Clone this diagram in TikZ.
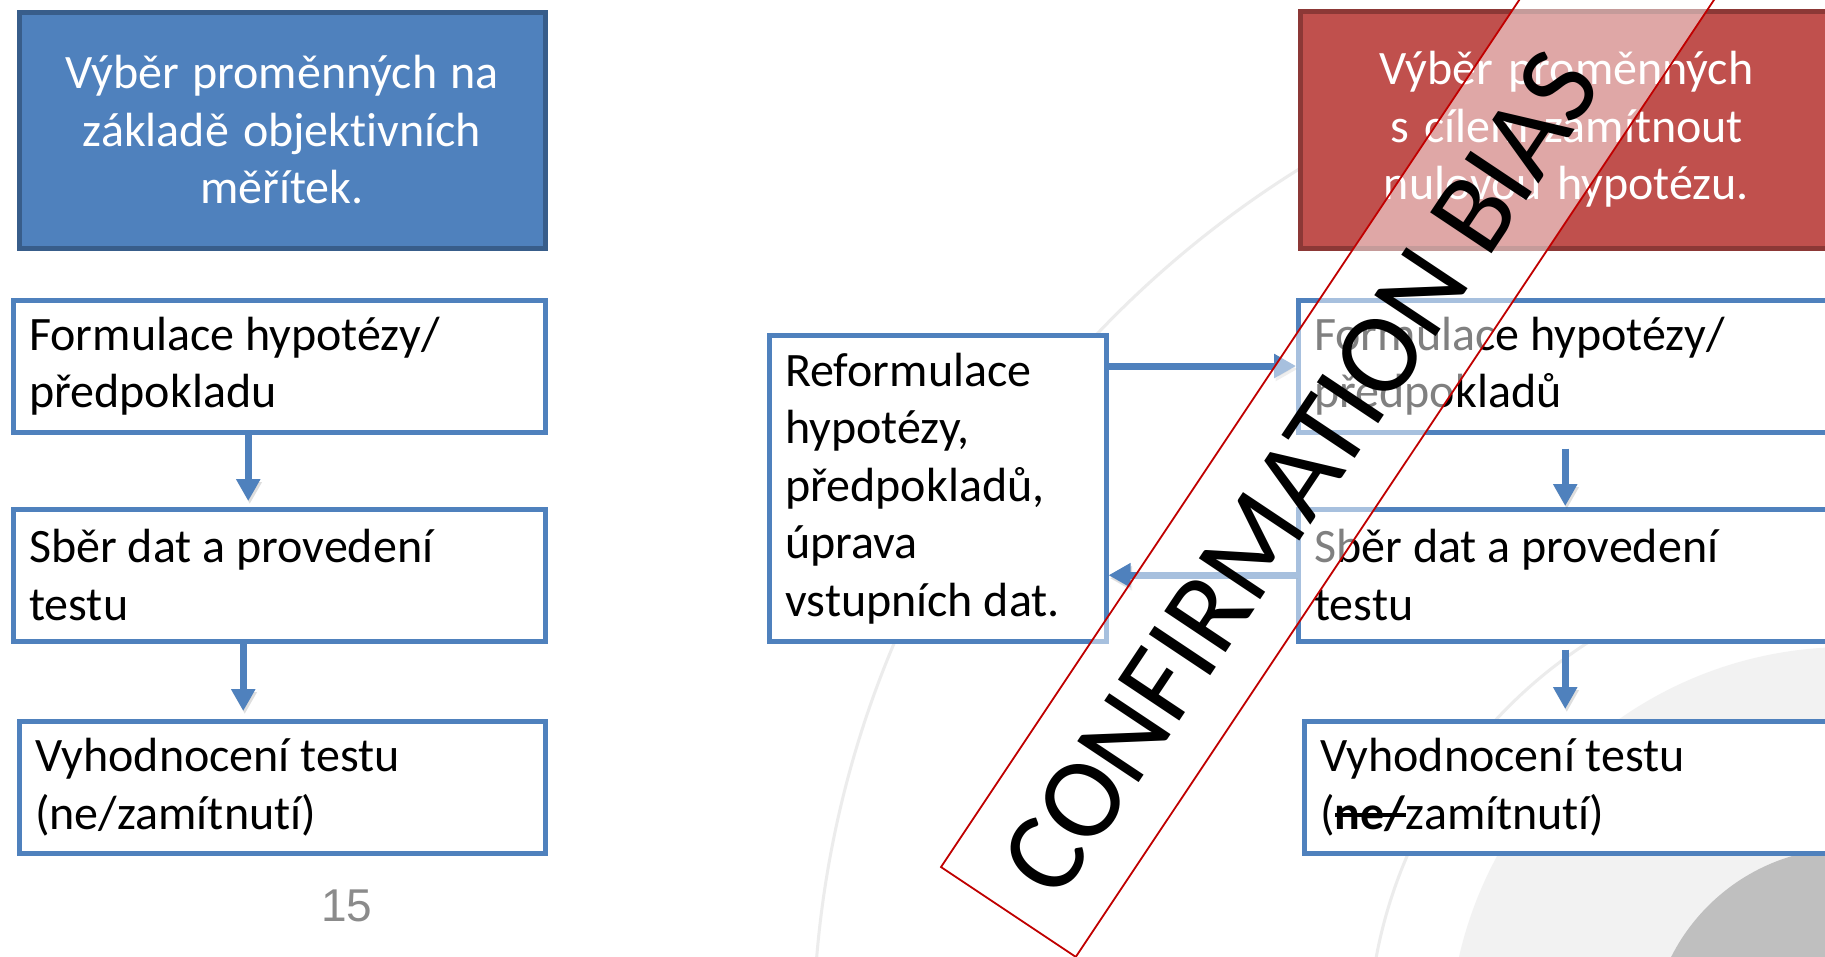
\documentclass[tikz,border=0pt]{standalone}
\usepackage{fontspec}
\setmainfont{Carlito}[Ligatures=NoCommon]
\newfontfamily\bodyfont{Carlito}[Ligatures=NoCommon]
\newfontfamily\stampfont{Carlito}
\newfontfamily\arialf{Liberation Sans}
\usetikzlibrary{arrows.meta,calc}
\definecolor{oblue}{HTML}{4F81BD}
\definecolor{oblueD}{HTML}{385D8A}
\definecolor{ored}{HTML}{C0504D}
\definecolor{oredD}{HTML}{8C3836}
\definecolor{stampred}{HTML}{C00000}
\definecolor{bgband}{HTML}{F2F2F2}
\definecolor{bgdark}{HTML}{BFBFBF}
\definecolor{bgarc}{HTML}{ECECEC}
\definecolor{pgnum}{HTML}{8B8B8B}
\newcommand\strk[1]{\leavevmode\setbox0\hbox{#1}\rlap{\rule[0.26em]{\wd0}{3.5pt}}\box0}
\newcommand\bodyfs{\bodyfont\fontsize{48}{57.5}\selectfont}
\newcommand\natspace{\spaceskip=0pt\xspaceskip=0pt\relax}
\begin{document}
\begin{tikzpicture}[x=1pt,y=-1pt,
  hdrbox/.style={line width=5pt, text=white, align=center, inner sep=0pt,
    anchor=north west, font=\bodyfs, execute at begin node=\natspace},
  stepbox/.style={draw=oblue, fill=white, line width=4.5pt, align=left,
    anchor=north west, inner xsep=16pt, inner ysep=0pt, font=\bodyfs,
    execute at begin node=\natspace},
  flow/.style={draw=oblue, line width=7pt, -{Triangle[width=23pt,length=22pt]},
    preaction={draw=black!70, opacity=0.18, transform canvas={xshift=1.5pt, yshift=-3pt}}},
  bgline/.style={draw=bgarc, line width=3pt},
]
\path[use as bounding box] (0,0) rectangle (1825,956);
\begin{scope}
\clip (0,0) rectangle (1825,956);
\fill[white] (0,0) rectangle (1825,956);
% background decoration
\fill[bgband] (1848,1046) circle[radius=399pt];
\fill[bgdark] (1848,1046) circle[radius=198pt];
\draw[bgline] (1848,1046) circle[radius=480pt];
\draw[bgline] (1845,1045) circle[radius=1032pt];

% left column
\node[hdrbox, draw=oblueD, fill=oblue, minimum width=526pt, minimum height=236pt, text width=510pt]
  (hdrL) at (16.5,9.5) {Výběr proměnných na\\ základě objekt\kern0pt ivních\\ měřítek.};
\node[stepbox, minimum width=532pt, minimum height=132pt, text width=500pt]
  (L1) at (11,298) {Formulace hypotézy/\\ předpokladu};
\node[stepbox, minimum width=532pt, minimum height=132pt, text width=500pt]
  (L2) at (11,507) {Sběr dat a provedení\\ testu};
\node[stepbox, minimum width=526pt, minimum height=132pt, text width=494pt]
  (L3) at (17,719) {Vyhodnocení testu\\ (ne/zamítnut\kern0pt í)};
\draw[flow, shorten >=6pt] ([xshift=-31pt]L1.south) -- ([xshift=-31pt]L2.north);
\draw[flow, shorten >=8pt] ([xshift=-36pt]L2.south) -- ([xshift=-36pt]L2.south |- L3.north);
\node[font=\arialf\fontsize{46}{46}\selectfont, text=pgnum, inner sep=0pt] (pg) at (347,906) {15};

% right column
\node[hdrbox, draw=oredD, fill=ored, minimum width=533pt, minimum height=237pt, text width=520pt]
  (hdrR) at (1297.5,8.5) {Výběr proměnných\\ s cílem zamítnout\\ nulovou hypotézu.};
\node[stepbox, minimum width=534pt, minimum height=132pt, text width=502pt]
  (R1) at (1296,298) {Formulace hypotézy/\\ předpokladů};
\node[stepbox, minimum width=534pt, minimum height=132pt, text width=502pt]
  (R2) at (1296,507) {Sběr dat a provedení\\ testu};
\node[stepbox, minimum width=528pt, minimum height=132pt, text width=496pt]
  (R3) at (1302,719) {Vyhodnocení testu\\ (\strk{\textbf{ne/}}zamítnut\kern0pt í)};
\node[stepbox, minimum width=337pt, minimum height=306pt, text width=305pt]
  (Ref) at (767,333) {Reformulace\\ hypotézy,\\ předpokladů,\\ úprava\\ vstupních dat.};
\draw[flow, shorten <=14pt, shorten >=1pt] (R1.south) -- (R2.north);
\draw[flow, shorten <=6pt, shorten >=10pt] (R2.south) -- (R2.south |- R3.north);
\draw[flow] ([yshift=-33pt]Ref.north east) -- ([yshift=-33pt]Ref.north east -| R1.west);
\draw[flow] (R2.west) -- (R2.west -| Ref.east);

% stamp
\begin{scope}[shift={(941,867)}, rotate=56.3]
  \draw[stampred, line width=1.8pt, fill=white, fill opacity=0.5] (0,0) rectangle (1300,162);
  \node[font=\stampfont\fontsize{115}{115}\selectfont, rotate=56.3, inner sep=0pt] (stamp) at (527,81) {CONFIRMATION BIAS};
\end{scope}
\end{scope}
\end{tikzpicture}
\end{document}
